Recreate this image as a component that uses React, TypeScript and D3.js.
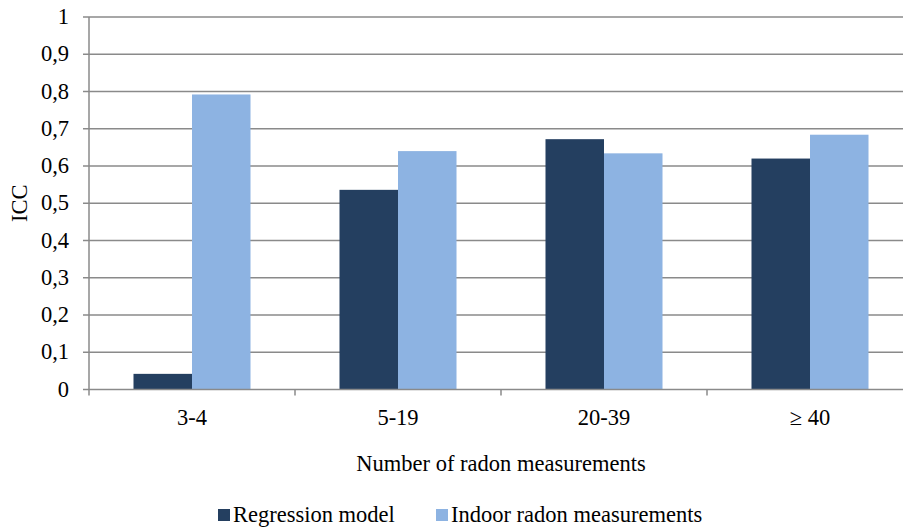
import React from "react";
import * as d3 from "d3";

const categories = ["3-4", "5-19", "20-39", "\u2265 40"];
const seriesNames = ["Regression model", "Indoor radon measurements"];
const regression = [0.042, 0.536, 0.672, 0.62];
const indoor = [0.792, 0.64, 0.634, 0.684];
const yTicks = [0, 0.1, 0.2, 0.3, 0.4, 0.5, 0.6, 0.7, 0.8, 0.9, 1];
const yTickLabels = ["0", "0,1", "0,2", "0,3", "0,4", "0,5", "0,6", "0,7", "0,8", "0,9", "1"];
const xTitle = "Number of radon measurements";
const yTitle = "ICC";

const W = 903;
const H = 527;
const left = 89;
const right = 913;
const top = 17;
const bottom = 389.5;
const colors = ["#243F60", "#8DB3E2"];
const font = "Liberation Serif, Times New Roman, DejaVu Serif, serif";
const fs = 22.5;

export default function App() {
  const x = d3.scaleBand<string>().domain(categories).range([left, right]).paddingInner(0.432).paddingOuter(0.216);
  const y = d3.scaleLinear().domain([0, 1]).range([bottom, top]);
  const xs = d3.scaleBand<number>().domain([0, 1]).range([0, x.bandwidth()]);
  const series = [regression, indoor];
  const step = x.step();
  const boundaries = d3.range(1, categories.length).map((i) => left + i * step);
  const grid = "#8a8a8a";
  const ts: React.CSSProperties = { fontFamily: font, fontSize: fs };

  return (
    <svg width={W} height={H} style={{ position: "absolute", left: 0, top: 0, background: "#fff" }}>
      {yTicks.slice(1).map((t) => (
        <line key={"g" + t} x1={left} x2={right} y1={y(t)} y2={y(t)} stroke={grid} strokeWidth={1.5} />
      ))}
      {series.map((vals, si) =>
        vals.map((v, ci) => (
          <rect
            key={si + "-" + ci}
            x={(x(categories[ci]) as number) + (xs(si) as number)}
            y={y(v)}
            width={xs.bandwidth()}
            height={y(0) - y(v)}
            fill={colors[si]}
          />
        ))
      )}
      <line x1={left} x2={left} y1={top} y2={bottom + 6} stroke={grid} strokeWidth={1.5} />
      <line x1={left} x2={right} y1={bottom} y2={bottom} stroke={grid} strokeWidth={1.5} />
      {yTicks.map((t) => (
        <line key={"t" + t} x1={left - 6} x2={left} y1={y(t)} y2={y(t)} stroke={grid} strokeWidth={1.5} />
      ))}
      {boundaries.map((b) => (
        <line key={"b" + b} x1={b} x2={b} y1={bottom} y2={bottom + 6} stroke={grid} strokeWidth={1.5} />
      ))}
      {yTicks.map((t, i) => (
        <text key={"l" + t} x={69} y={y(t) + 7} textAnchor="end" style={ts} fill="#000">
          {yTickLabels[i]}
        </text>
      ))}
      {categories.map((c) => (
        <text key={"c" + c} x={(x(c) as number) + x.bandwidth() / 2} y={425} textAnchor="middle" style={ts} fill="#000">
          {c}
        </text>
      ))}
      <text x={(left + right) / 2} y={471} textAnchor="middle" style={ts} fill="#000">
        {xTitle}
      </text>
      <text transform={`translate(27, ${(top + bottom) / 2}) rotate(-90)`} textAnchor="middle" style={ts} fill="#000">
        {yTitle}
      </text>
      {seriesNames.map((n, i) => {
        const lx = i === 0 ? 218 : 436;
        return (
          <g key={n}>
            <rect x={lx} y={509} width={12} height={12} fill={colors[i]} />
            <text x={lx + 15} y={522} style={ts} fill="#000">
              {n}
            </text>
          </g>
        );
      })}
    </svg>
  );
}
